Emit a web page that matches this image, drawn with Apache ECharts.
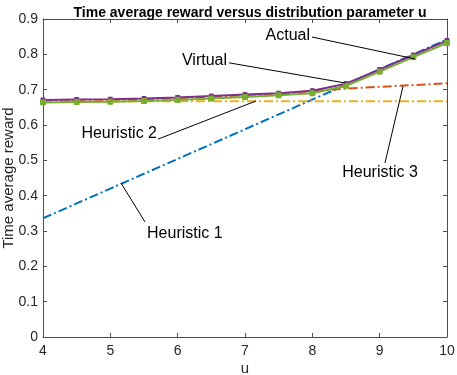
<!DOCTYPE html>
<html>
<head>
<meta charset="utf-8">
<script src="https://cdn.jsdelivr.net/npm/echarts@6/dist/echarts.min.js"></script>
<style>
  html, body { margin: 0; padding: 0; background: #fff; }
  #chart { width: 457px; height: 375px; }
</style>
</head>
<body>
<div id="chart"></div>
<script>
// data
const uValues = [4, 4.5, 5, 5.5, 6, 6.5, 7, 7.5, 8, 8.5, 9, 9.5, 10];
const heuristic1 = [0.336, 0.378, 0.420, 0.462, 0.504, 0.546, 0.588, 0.630, 0.672, 0.714, 0.758, 0.800, 0.842];
const heuristic3 = [0.668, 0.670, 0.671, 0.673, 0.676, 0.680, 0.684, 0.688, 0.696, 0.703, 0.708, 0.713, 0.718];
const heuristic2 = [0.667, 0.667, 0.667, 0.667, 0.667, 0.667, 0.667, 0.667, 0.667, 0.667, 0.667, 0.667, 0.667];
const actual = [0.671, 0.672, 0.673, 0.675, 0.678, 0.682, 0.686, 0.690, 0.697, 0.717, 0.757, 0.798, 0.839];
const virtual = [0.664, 0.665, 0.666, 0.668, 0.671, 0.675, 0.679, 0.684, 0.690, 0.711, 0.751, 0.792, 0.832];
const yTicks = ['0', '0.1', '0.2', '0.3', '0.4', '0.5', '0.6', '0.7', '0.8', '0.9'];

// annotation labels: text anchor and line ends, in data units
const annoText = ['Actual', 'Virtual', 'Heuristic 2', 'Heuristic 1', 'Heuristic 3'];
const annoTextPos = [[7.966, 0.852], [6.733, 0.781], [5.693, 0.575], [5.545, 0.294], [9.005, 0.464]];
const annoAlign = ['right', 'right', 'right', 'left', 'center'];
const annoLineFrom = [[7.995, 0.849], [6.763, 0.776], [5.708, 0.560], [5.515, 0.3255], [9.079, 0.4925]];
const annoLineTo = [[9.525, 0.787], [8.485, 0.719], [7.164, 0.668], [5.158, 0.436], [9.347, 0.710]];

const FONT = 'Liberation Sans, Arial, Helvetica, sans-serif';
const AXIS_COLOR = '#4d4d4d';
const DASH_DOT = [9, 3, 2, 3];

const chart = echarts.init(document.getElementById('chart'));

const pairs = (arr) => uValues.map((u, i) => [u, arr[i]]);

const dashLine = (name, data, color) => ({
  name,
  type: 'line',
  data: pairs(data),
  showSymbol: false,
  silent: true,
  lineStyle: { color, width: 2, type: DASH_DOT },
  animation: false,
});

const markLine = (name, data, color, symbol, size) => ({
  name,
  type: 'line',
  data: pairs(data),
  symbol,
  symbolSize: size,
  showSymbol: true,
  silent: true,
  itemStyle: { color, borderColor: color, borderWidth: 1 },
  lineStyle: { color, width: 2 },
  animation: false,
});

const baseX = {
  type: 'value',
  min: 4,
  max: 10,
  interval: 1,
  axisLine: { show: true, onZero: false, lineStyle: { color: AXIS_COLOR, width: 1 } },
  axisTick: { show: true, inside: true, length: 4, lineStyle: { color: AXIS_COLOR } },
  splitLine: { show: false },
};

const baseY = {
  type: 'value',
  min: 0,
  max: 0.9,
  interval: 0.1,
  axisLine: { show: true, onZero: false, lineStyle: { color: AXIS_COLOR, width: 1 } },
  axisTick: { show: true, inside: true, length: 4, lineStyle: { color: AXIS_COLOR } },
  splitLine: { show: false },
};

const option = {
  animation: false,
  backgroundColor: '#fff',
  textStyle: { fontFamily: FONT },
  title: {
    text: 'Time average reward versus distribution parameter u',
    left: 245,
    textAlign: 'center',
    top: 1,
    textStyle: { fontFamily: FONT, fontSize: 14, fontWeight: 'bold', color: '#000' },
  },
  grid: { left: 43, right: 10, top: 19, bottom: 38, containLabel: false, outerBoundsMode: 'none' },
  xAxis: [
    {
      ...baseX,
      position: 'bottom',
      name: 'u',
      nameLocation: 'middle',
      nameGap: 24,
      nameMoveOverlap: false,
      nameTextStyle: { fontFamily: FONT, fontSize: 15, color: '#262626' },
      axisLabel: { fontFamily: FONT, fontSize: 14, color: '#262626', margin: 7 },
    },
    { ...baseX, position: 'top', axisLabel: { show: false } },
  ],
  yAxis: [
    {
      ...baseY,
      position: 'left',
      name: 'Time average reward',
      nameLocation: 'middle',
      nameGap: 27,
      nameMoveOverlap: false,
      nameTextStyle: { fontFamily: FONT, fontSize: 15, color: '#262626' },
      axisLabel: {
        fontFamily: FONT,
        fontSize: 14,
        color: '#262626',
        margin: 5,
        formatter: (v) => yTicks[Math.round(v * 10)],
      },
    },
    { ...baseY, position: 'right', axisLabel: { show: false } },
  ],
  series: [
    dashLine('Heuristic 1', heuristic1, '#0072BD'),
    dashLine('Heuristic 3', heuristic3, '#D95319'),
    dashLine('Heuristic 2', heuristic2, '#EDB120'),
    markLine('Actual', actual, '#7E2F8E', 'rect', 4),
    markLine('Virtual', virtual, '#77AC30', 'rect', 5),
  ],
};

chart.setOption(option);

// annotations: placed in pixel space from data coordinates
const toPx = (p) => chart.convertToPixel({ xAxisIndex: 0, yAxisIndex: 0 }, p);
const graphics = [];
annoText.forEach((txt, i) => {
  const a = toPx(annoLineFrom[i]);
  const b = toPx(annoLineTo[i]);
  const t = toPx(annoTextPos[i]);
  graphics.push({
    type: 'line',
    shape: { x1: a[0], y1: a[1], x2: b[0], y2: b[1] },
    style: { stroke: '#000', lineWidth: 1 },
    z: 100,
  });
  graphics.push({
    type: 'text',
    x: t[0],
    y: t[1],
    style: {
      text: txt,
      font: '16px ' + FONT,
      fill: '#000',
      align: annoAlign[i],
      verticalAlign: 'middle',
    },
    z: 100,
  });
});
chart.setOption({ graphic: graphics });
</script>
</body>
</html>
